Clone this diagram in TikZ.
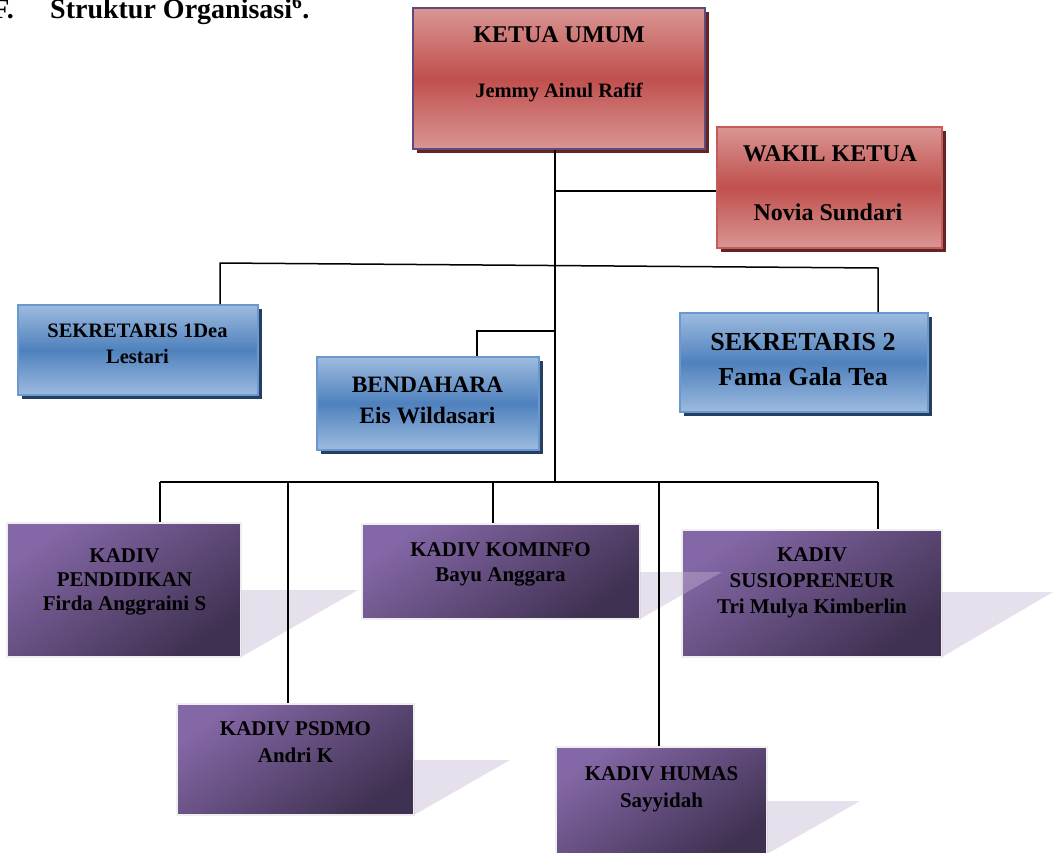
\documentclass[tikz,border=0pt]{standalone}
\usepackage{fontspec}
\setmainfont{Liberation Serif}
\usetikzlibrary{shadows}
\definecolor{redL}{HTML}{D99694}
\definecolor{redM}{HTML}{C0504D}
\definecolor{redS}{HTML}{632523}
\definecolor{ketB}{HTML}{604A7B}
\definecolor{wakB}{HTML}{C65C59}
\definecolor{bluL}{HTML}{9DBBDF}
\definecolor{bluM}{HTML}{4F81BD}
\definecolor{bluB}{HTML}{6A98CF}
\definecolor{bluS}{HTML}{243F60}
\definecolor{purL}{HTML}{8467A6}
\definecolor{purD}{HTML}{3F3151}
\definecolor{purB}{HTML}{EEEEEE}
\definecolor{lav}{RGB}{193,181,210}
\tikzset{
  bx/.style 2 args={rectangle, inner sep=0pt, minimum width=#1, minimum height=#2},
  redbox/.style={top color=redL, bottom color=redL, middle color=redM, line width=2pt,
     drop shadow={shadow xshift=4pt, shadow yshift=-4pt, fill=redS, opacity=1}},
  bluebox/.style={top color=bluL, bottom color=bluL, middle color=bluM, draw=bluB, line width=2pt,
     drop shadow={shadow xshift=4pt, shadow yshift=-4pt, fill=bluS, opacity=1}},
  purbox/.style={top color=purL, bottom color=purD, shading angle=35, draw=purB, line width=2pt},
  lbl/.style={anchor=base, inner sep=0pt, text=black},
  f20/.style={font=\fontsize{20.5}{24}\selectfont\bfseries},
  f21/.style={font=\fontsize{21}{24}\selectfont\bfseries},
  f23/.style={font=\fontsize{23.5}{27}\selectfont\bfseries},
  f24/.style={font=\fontsize{24}{28}\selectfont\bfseries},
  f26/.style={font=\fontsize{26}{30}\selectfont\bfseries},
  conn/.style={draw=black, line width=1.5pt},
  shd/.style={fill=lav, opacity=0.42}
}
\begin{document}
\begin{tikzpicture}[x=1pt, y=-1pt]
\useasboundingbox (0,0) rectangle (1055,852);
\begin{scope}
\clip (0,0) rectangle (1055,852);
% title
\node[lbl, anchor=base east, font=\fontsize{28}{30}\selectfont\bfseries] (fnum) at (14,18) {F.};
\node[lbl, anchor=base west, font=\fontsize{28}{30}\selectfont\bfseries] (title) at (50,18) {Struktur Organisasi\textsuperscript{6}.};
% top boxes
\node[bx={292pt}{141pt}, redbox, draw=ketB, line width=2.5pt] (ketua) at (559,78.5) {};
\node[bx={225pt}{121pt}, redbox, draw=wakB] (wakil) at (829.5,187.5) {};
\node[bx={240pt}{90pt}, bluebox] (sek1) at (138,350) {};
\node[bx={222pt}{93pt}, bluebox] (bend) at (428,403.5) {};
\node[bx={248pt}{99pt}, bluebox] (sek2) at (804,362.5) {};
% purple boxes
\node[bx={234pt}{134pt}, purbox] (pend) at (124,590) {};
\node[bx={278pt}{95pt}, purbox] (komi) at (501,571.5) {};
\node[bx={260pt}{127pt}, purbox] (susi) at (812,593.5) {};
\node[bx={237pt}{111pt}, purbox] (psdm) at (295.5,759.5) {};
\node[bx={211pt}{111pt}, purbox] (huma) at (661.5,802.5) {};
% perspective shadows
\fill[shd] (241,590) -- (358,590) -- (241,657) -- cycle;
\fill[shd] (640,572) -- (722,572) -- (640,619) -- cycle;
\fill[shd] (942,592) -- (1053,592) -- (942,657) -- cycle;
\fill[shd] (414,760) -- (510,760) -- (414,815) -- cycle;
\fill[shd] (767,801) -- (860,801) -- (767,854) -- cycle;
% labels
\node[lbl, f24] (ketua1) at (559,42) {KETUA UMUM};
\node[lbl, f20] (ketua2) at (559,97) {Jemmy Ainul Rafif};
\node[lbl, f24] (wakil1) at (830,161) {WAKIL KETUA};
\node[lbl, f24] (wakil2) at (828,220) {Novia Sundari};
\node[lbl, f20] (sek1a) at (137.5,337) {SEKRETARIS 1Dea};
\node[lbl, f20] (sek1b) at (137.5,363) {Lestari};
\node[lbl, f23] (bend1) at (427.5,392) {BENDAHARA};
\node[lbl, f23] (bend2) at (427.5,423) {Eis Wildasari};
\node[lbl, f26] (sek2a) at (803,350) {SEKRETARIS 2};
\node[lbl, f26] (sek2b) at (803,385) {Fama Gala Tea};
\node[lbl, f21] (pend1) at (124.5,562) {KADIV};
\node[lbl, f21] (pend2) at (124.5,586) {PENDIDIKAN};
\node[lbl, f21] (pend3) at (124.5,610) {Firda Anggraini S};
\node[lbl, f21] (komi1) at (500.5,556) {KADIV KOMINFO};
\node[lbl, f21] (komi2) at (500.5,581) {Bayu Anggara};
\node[lbl, f21] (susi1) at (812,561) {KADIV};
\node[lbl, f21] (susi2) at (812,587) {SUSIOPRENEUR};
\node[lbl, f21] (susi3) at (812,613) {Tri Mulya Kimberlin};
\node[lbl, f21] (psdm1) at (295.5,735) {KADIV PSDMO};
\node[lbl, f21] (psdm2) at (295.5,762) {Andri K};
\node[lbl, f21] (huma1) at (661.5,780) {KADIV HUMAS};
\node[lbl, f21] (huma2) at (661.5,807) {Sayyidah};
% connectors
\coordinate (tr) at (555,482);
\coordinate (wk) at (555,191);
\coordinate (sL) at (220,263);
\coordinate (sR) at (878,268);
\coordinate (bj) at (555,331);
\coordinate (bk) at (477,331);
\coordinate (b1) at (160,482);
\coordinate (b2) at (288,482);
\coordinate (b3) at (493,482);
\coordinate (b4) at (659,482);
\coordinate (b5) at (878,482);
\draw[conn] (ketua.south -| tr) -- (tr);
\draw[conn] (wk) -- (wk -| wakil.west);
\draw[conn] (sek1.north -| sL) -- (sL) -- (sR) -- (sek2.north -| sR);
\draw[conn] (bj) -- (bk) -- (bend.north -| bk);
\draw[conn] (b1) -- (b5);
\draw[conn] (b1) -- (pend.north -| b1);
\draw[conn] (b2) -- (psdm.north -| b2);
\draw[conn] (b3) -- (komi.north -| b3);
\draw[conn] (b4) -- (huma.north -| b4);
\draw[conn] (b5) -- (susi.north -| b5);
\end{scope}
\end{tikzpicture}
\end{document}
